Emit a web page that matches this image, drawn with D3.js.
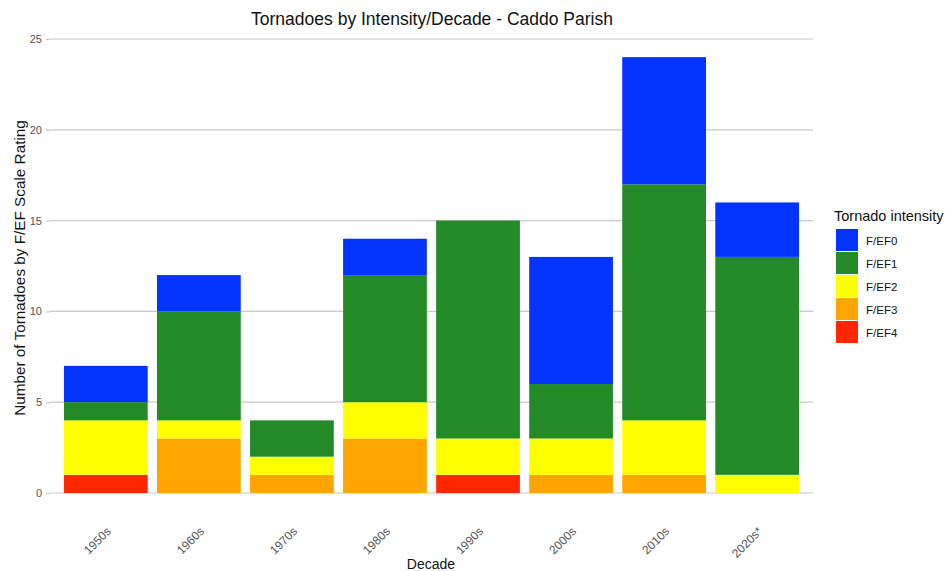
<!DOCTYPE html>
<html>
<head>
<meta charset="utf-8">
<script src="https://cdn.jsdelivr.net/npm/d3@7"></script>
<style>
  body { margin: 0; background: #fff; }
  svg { display: block; font-family: "Liberation Sans", Arial, sans-serif; }
</style>
</head>
<body>
<svg id="chart" width="946" height="571"></svg>
<script>
// Tornado counts per decade, split by F/EF rating
const decades = ["1950s", "1960s", "1970s", "1980s", "1990s", "2000s", "2010s", "2020s*"];
const ef0 = [2, 2, 0, 2, 0, 7, 7, 3];
const ef1 = [1, 6, 2, 7, 12, 3, 13, 12];
const ef2 = [3, 1, 1, 2, 2, 2, 3, 1];
const ef3 = [0, 3, 1, 3, 0, 1, 1, 0];
const ef4 = [1, 0, 0, 0, 1, 0, 0, 0];
const ratings = ["F/EF0", "F/EF1", "F/EF2", "F/EF3", "F/EF4"];
const ratingColors = ["#0433ff", "#238a27", "#ffff00", "#ffa500", "#ff2600"];
const yTicks = [0, 5, 10, 15, 20, 25];

const rows = decades.map((d, i) => ({
  decade: d,
  "F/EF0": ef0[i], "F/EF1": ef1[i], "F/EF2": ef2[i], "F/EF3": ef3[i], "F/EF4": ef4[i]
}));

const svg = d3.select("#chart");
const margin = { left: 50, right: 813, top: 39, bottom: 493 };

const x = d3.scaleBand().domain(decades).range([margin.left, margin.right])
  .paddingInner(0.1).paddingOuter(0.15);
const y = d3.scaleLinear().domain([0, 25]).range([margin.bottom, margin.top]);
const color = d3.scaleOrdinal().domain(ratings).range(ratingColors);

// gridlines
svg.append("g").selectAll("line").data(yTicks).join("line")
  .attr("x1", margin.left).attr("x2", margin.right)
  .attr("y1", d => y(d)).attr("y2", d => y(d))
  .attr("stroke", "#c8c8c8").attr("stroke-width", 1.2);

// stacked bars, F/EF4 at the bottom
const stackOrder = ratings.slice().reverse();
const series = d3.stack().keys(stackOrder)(rows);
svg.append("g").selectAll("g").data(series).join("g")
  .attr("fill", s => color(s.key))
  .selectAll("rect").data(s => s.filter(p => p[1] > p[0])).join("rect")
  .attr("x", p => x(p.data.decade))
  .attr("width", x.bandwidth())
  .attr("y", p => y(p[1]))
  .attr("height", p => y(p[0]) - y(p[1]));

// y axis
const yAxis = svg.append("g").attr("transform", `translate(${margin.left},0)`)
  .call(d3.axisLeft(y).tickValues(yTicks).tickSize(4).tickPadding(4));
yAxis.select(".domain").remove();
yAxis.selectAll(".tick line").attr("stroke", "#c8c8c8").attr("stroke-width", 1.2);
yAxis.selectAll(".tick text").attr("fill", "#555").attr("font-size", 11);

// x axis labels, rotated
const xAxis = svg.append("g").attr("transform", `translate(0,${margin.bottom})`)
  .call(d3.axisBottom(x).tickSize(0).tickPadding(0));
xAxis.select(".domain").remove();
xAxis.selectAll(".tick text")
  .attr("fill", "#555").attr("font-size", 12)
  .attr("text-anchor", "end")
  .attr("dy", 0)
  .attr("transform", "translate(6,39) rotate(-45)");

// titles
svg.append("text").attr("x", 432).attr("y", 25).attr("text-anchor", "middle")
  .attr("font-size", 17.5).attr("fill", "#111").text("Tornadoes by Intensity/Decade - Caddo Parish");
svg.append("text").attr("x", 431).attr("y", 569).attr("text-anchor", "middle")
  .attr("font-size", 14).attr("fill", "#111").text("Decade");
svg.append("text").attr("transform", "translate(25,268) rotate(-90)").attr("text-anchor", "middle")
  .attr("font-size", 15.3).attr("fill", "#111").text("Number of Tornadoes by F/EF Scale Rating");

// legend
const legend = svg.append("g").attr("transform", "translate(834,0)");
legend.append("text").attr("x", 0).attr("y", 221).attr("font-size", 14.5).attr("fill", "#111")
  .text("Tornado intensity");
const items = legend.selectAll("g.item").data(ratings).join("g").attr("class", "item")
  .attr("transform", (d, i) => `translate(2,${229 + i * 23})`);
items.append("rect").attr("width", 22).attr("height", 22).attr("fill", d => color(d));
items.append("text").attr("x", 30).attr("y", 15.5).attr("font-size", 11.5).attr("fill", "#111").text(d => d);
</script>
</body>
</html>
